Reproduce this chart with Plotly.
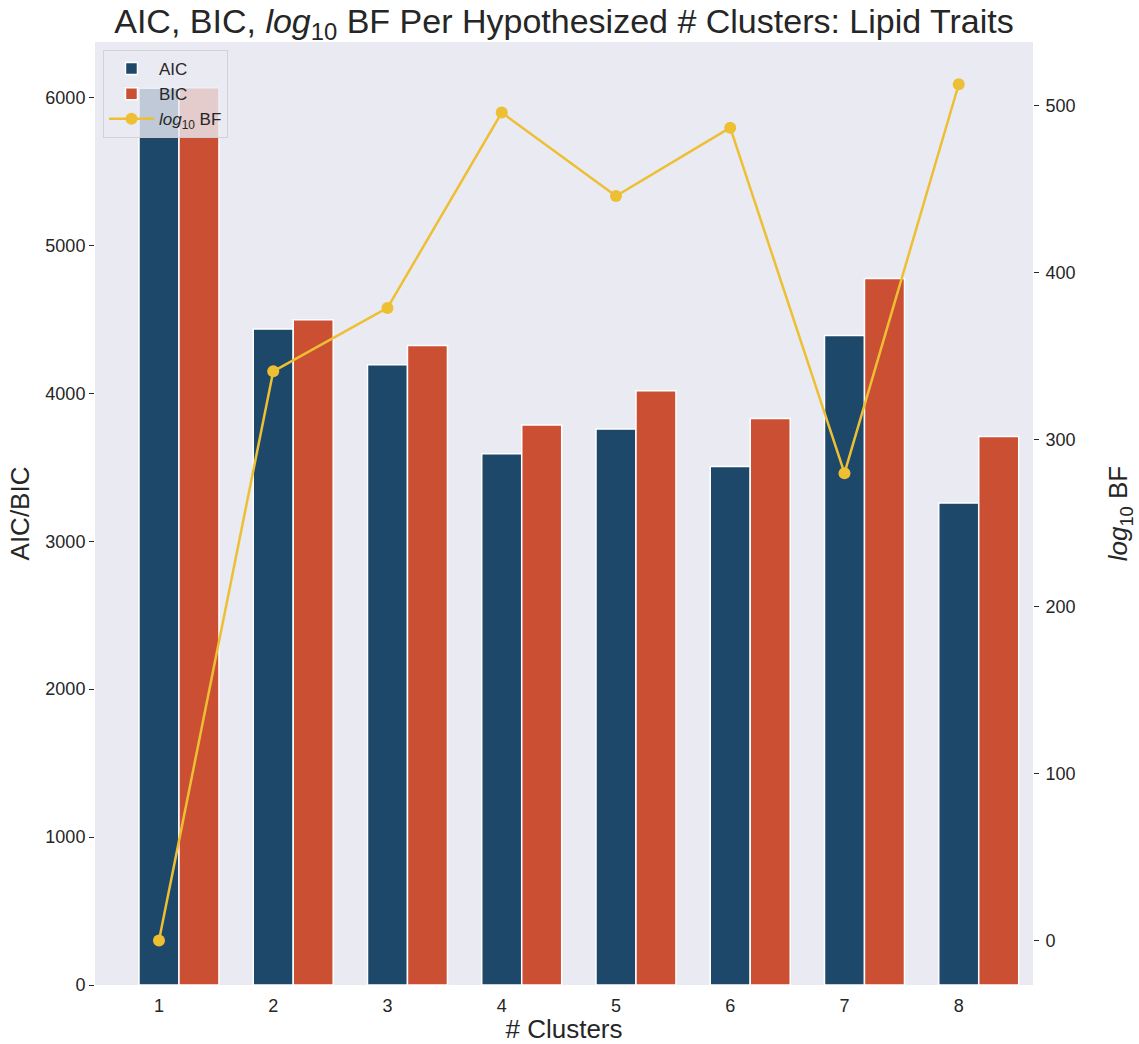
import plotly.graph_objects as go

# Number of hypothesized clusters
clusters = [1, 2, 3, 4, 5, 6, 7, 8]

# Information criteria per model
aic = [6062, 4434, 4193, 3591, 3758, 3505, 4391, 3258]
bic = [6065, 4497, 4323, 3785, 4017, 3830, 4776, 3708]

# log10 Bayes factor per model
log10_bf = [0, 341, 379, 496, 446, 487, 280, 513]

AIC_COLOR = "#1D4869"
BIC_COLOR = "#CB4F33"
BF_COLOR = "#EDBF33"
BG = "#EAEAF2"
TXT = "#262626"
FONT = "Arial, Liberation Sans, sans-serif"

BAR_W = 0.35

fig = go.Figure()

fig.add_trace(go.Bar(
    x=clusters, y=aic, name="AIC",
    width=BAR_W, offset=-BAR_W / 2,
    marker=dict(color=AIC_COLOR, line=dict(color="white", width=1.5)),
))
fig.add_trace(go.Bar(
    x=clusters, y=bic, name="BIC",
    width=BAR_W, offset=BAR_W / 2,
    marker=dict(color=BIC_COLOR, line=dict(color="white", width=1.5)),
))
fig.add_trace(go.Scatter(
    x=clusters, y=log10_bf, name="<i>log</i><sub>10</sub> BF",
    mode="lines+markers", yaxis="y2",
    line=dict(color=BF_COLOR, width=2.5),
    marker=dict(color=BF_COLOR, size=12),
))

fig.update_layout(
    width=1139, height=1044,
    margin=dict(l=95, r=106, t=42, b=59),
    paper_bgcolor="white",
    plot_bgcolor=BG,
    barmode="overlay",
    font=dict(family=FONT, color=TXT, size=18),
    title=dict(
        text="AIC, BIC, <i>log</i><sub>10</sub> BF Per Hypothesized # Clusters: Lipid Traits",
        x=0.5, xref="paper", xanchor="center",
        y=1 - 21 / 1044, yref="container", yanchor="middle",
        font=dict(size=34, color=TXT, family=FONT),
    ),
    xaxis=dict(
        range=[0.44, 8.65], automargin=False,
        tickmode="array", tickvals=clusters,
        ticktext=[str(c) for c in clusters],
        showgrid=False, zeroline=False, showline=False,
        ticks="", ticklabelstandoff=8,
        tickfont=dict(size=18, color=TXT),
        title=dict(text="# Clusters", font=dict(size=26, color=TXT), standoff=6),
    ),
    yaxis=dict(
        range=[0, 6375], automargin=False,
        tickmode="array", tickvals=[0, 1000, 2000, 3000, 4000, 5000, 6000],
        showgrid=False, zeroline=False, showline=False,
        ticks="outside", ticklen=5, tickwidth=1, tickcolor=TXT,
        tickfont=dict(size=18, color=TXT),
        title=dict(text="AIC/BIC", font=dict(size=26, color=TXT), standoff=8),
    ),
    yaxis2=dict(
        overlaying="y", side="right", automargin=False,
        range=[-26.6, 538.3],
        tickmode="array", tickvals=[0, 100, 200, 300, 400, 500],
        showgrid=False, zeroline=False, showline=False,
        ticks="outside", ticklen=5, tickwidth=1, tickcolor=TXT,
        ticklabelstandoff=3,
        tickfont=dict(size=18, color=TXT),
        title=dict(text="<i>log</i><sub>10</sub> BF", font=dict(size=26, color=TXT), standoff=34),
    ),
    legend=dict(
        x=0.0085, y=0.9915, xanchor="left", yanchor="top",
        bgcolor="rgba(234,234,242,0.8)",
        bordercolor="rgba(204,204,204,0.8)", borderwidth=1,
        font=dict(size=17, color=TXT),
        itemwidth=45,
    ),
    showlegend=True,
)

fig.write_html("out.html")
